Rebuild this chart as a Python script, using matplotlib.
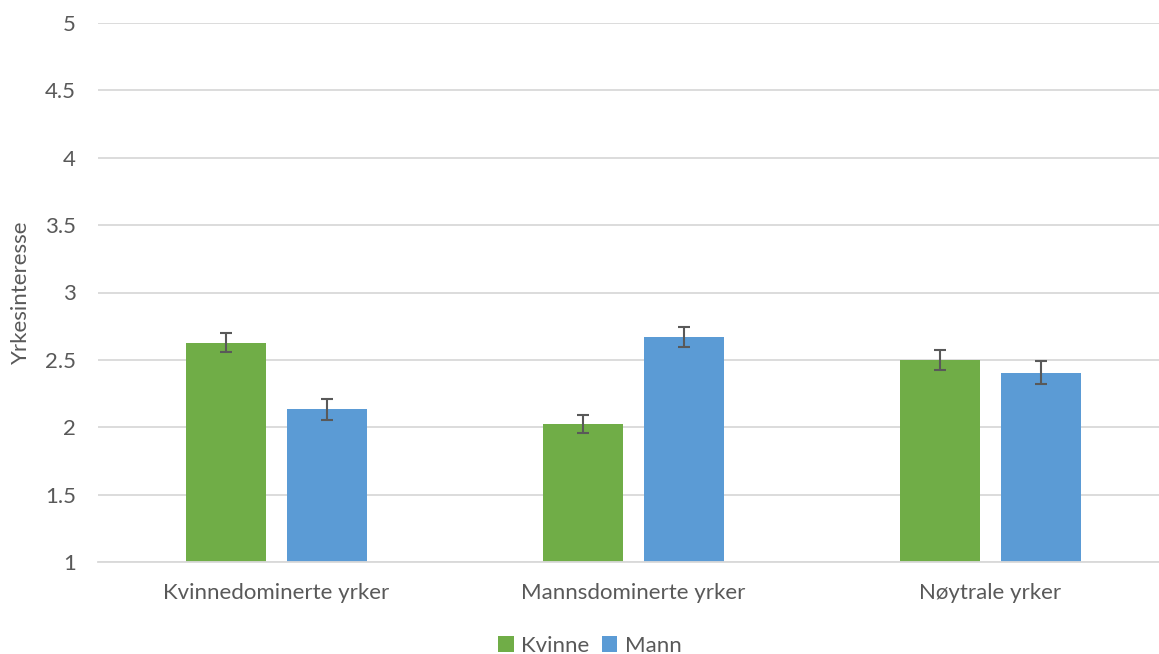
import numpy as np
import matplotlib.pyplot as plt

kategorier = ['Kvinnedominerte yrker', 'Mannsdominerte yrker', 'Nøytrale yrker']
kvinne = [2.627, 2.024, 2.50]
mann = [2.133, 2.672, 2.405]
kvinne_err = [0.070, 0.064, 0.074]
mann_err = [0.079, 0.074, 0.083]
yticks = [1, 1.5, 2, 2.5, 3, 3.5, 4, 4.5, 5]

plt.rcParams['font.family'] = ['Lato', 'DejaVu Sans']
tekst = '#595959'

fig = plt.figure(figsize=(11.59, 6.54), dpi=100)
ax = fig.add_axes([98 / 1159, 92 / 654, 1071 / 1159, 539 / 654])

x = np.arange(len(kategorier))
b = 0.224
ax.bar(x - 0.1415, np.array(kvinne) - 1, b, bottom=1, color='#70AD47', label='Kvinne', zorder=2)
ax.bar(x + 0.1415, np.array(mann) - 1, b, bottom=1, color='#5B9BD5', label='Mann', zorder=2)
ax.errorbar(x - 0.1415, kvinne, yerr=kvinne_err, fmt='none', ecolor='#595959',
            elinewidth=1.5, capsize=4.3, capthick=1.5, zorder=3)
ax.errorbar(x + 0.1415, mann, yerr=mann_err, fmt='none', ecolor='#595959',
            elinewidth=1.5, capsize=4.3, capthick=1.5, zorder=3)

ax.set_xlim(-0.5, 2.5)
ax.set_ylim(1, 5)
ax.set_yticks(yticks)
ax.set_yticklabels(['1', '1.5', '2', '2.5', '3', '3.5', '4', '4.5', '5'])
ax.set_xticks(x)
ax.set_xticklabels(kategorier)
ax.grid(axis='y', color='#D9D9D9', linewidth=1.3, zorder=0)
for s in ['top', 'right', 'left']:
    ax.spines[s].set_visible(False)
ax.spines['bottom'].set_color('#D9D9D9')
ax.spines['bottom'].set_linewidth(1.3)
ax.tick_params(length=0, labelsize=16, colors=tekst, pad=15)
ax.tick_params(axis='y', pad=16)
ax.set_ylabel('Yrkesinteresse', fontsize=16, color=tekst)
ax.yaxis.set_label_coords(-0.0626, 0.5)

ax.legend(loc='center', bbox_to_anchor=(590 / 1159, 8 / 654), bbox_transform=fig.transFigure,
          ncol=2, frameon=False, fontsize=16, labelcolor=tekst, handlelength=0.7,
          handleheight=0.7, handletextpad=0.35, columnspacing=0.55)

fig.savefig('out.png', dpi=100)
